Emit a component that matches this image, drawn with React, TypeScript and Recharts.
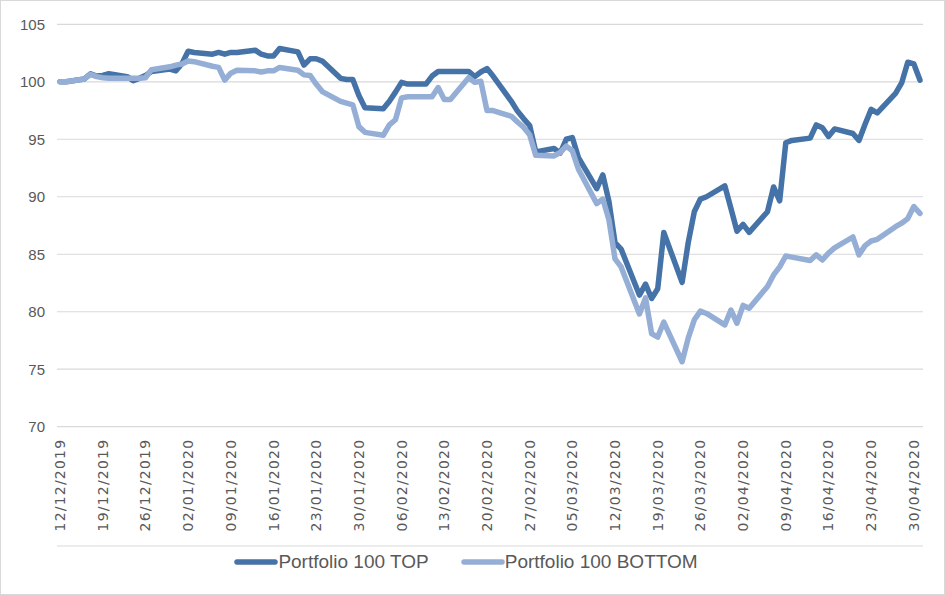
import React from 'react';
import { LineChart, Line, XAxis, YAxis, CartesianGrid, Legend } from 'recharts';

const dates = [
  '12/12/2019', '13/12/2019', '16/12/2019', '17/12/2019', '18/12/2019', '19/12/2019', '20/12/2019',
  '23/12/2019', '24/12/2019', '25/12/2019', '26/12/2019', '27/12/2019', '30/12/2019', '31/12/2019',
  '01/01/2020', '02/01/2020', '03/01/2020', '06/01/2020', '07/01/2020', '08/01/2020', '09/01/2020',
  '10/01/2020', '13/01/2020', '14/01/2020', '15/01/2020', '16/01/2020', '17/01/2020', '20/01/2020',
  '21/01/2020', '22/01/2020', '23/01/2020', '24/01/2020', '27/01/2020', '28/01/2020', '29/01/2020',
  '30/01/2020', '31/01/2020',
  '03/02/2020', '04/02/2020', '05/02/2020', '06/02/2020', '07/02/2020', '10/02/2020', '11/02/2020',
  '12/02/2020', '13/02/2020', '14/02/2020', '17/02/2020', '18/02/2020', '19/02/2020', '20/02/2020',
  '21/02/2020', '24/02/2020', '25/02/2020', '26/02/2020', '27/02/2020', '28/02/2020',
  '02/03/2020', '03/03/2020', '04/03/2020', '05/03/2020', '06/03/2020', '09/03/2020', '10/03/2020',
  '11/03/2020', '12/03/2020', '13/03/2020', '16/03/2020', '17/03/2020', '18/03/2020', '19/03/2020',
  '20/03/2020', '23/03/2020', '24/03/2020', '25/03/2020', '26/03/2020', '27/03/2020', '30/03/2020',
  '31/03/2020',
  '01/04/2020', '02/04/2020', '03/04/2020', '06/04/2020', '07/04/2020', '08/04/2020', '09/04/2020',
  '10/04/2020', '13/04/2020', '14/04/2020', '15/04/2020', '16/04/2020', '17/04/2020', '20/04/2020',
  '21/04/2020', '22/04/2020', '23/04/2020', '24/04/2020', '27/04/2020', '28/04/2020', '29/04/2020',
  '30/04/2020', '01/05/2020',
];

const topValues = [
  100.0, 100.0, 100.25, 100.7, 100.5, 100.55, 100.7, 100.45, 100.1, 100.3, 100.55, 100.9, 101.1, 100.95,
  101.6, 102.65, 102.55, 102.4, 102.55, 102.4, 102.55, 102.55, 102.75, 102.4, 102.25, 102.25, 102.9, 102.6,
  101.45, 102.0, 102.0, 101.8, 100.3, 100.2, 100.2, 98.8, 97.75,
  97.65, 98.3, 99.1, 99.95, 99.8, 99.8, 100.5, 100.9, 100.9, 100.9, 100.9, 100.45, 100.85, 101.15,
  100.5, 98.3, 97.45, 96.8, 96.2, 93.9,
  94.2, 93.8, 95.0, 95.15, 93.4, 90.7, 91.9, 89.6, 86.0, 85.45, 81.45, 82.4, 81.15, 82.0,
  86.9, 82.55, 86.0, 88.7, 89.8, 90.0, 90.95, 89.0,
  87.0, 87.6, 86.9, 88.7, 90.85, 89.65, 94.7, 94.9, 95.1, 96.25, 96.0, 95.25, 95.9, 95.5,
  94.9, 96.3, 97.6, 97.3, 99.0, 99.9, 101.7, 101.55, 100.15,
];

const bottomValues = [
  100.0, 100.0, 100.25, 100.65, 100.45, 100.35, 100.3, 100.3, 100.3, 100.3, 100.35, 101.05, 101.3, 101.45,
  101.55, 101.8, 101.75, 101.35, 101.25, 100.15, 100.75, 101.0, 100.95, 100.85, 100.95, 100.95, 101.25, 101.0,
  100.6, 100.55, 99.8, 99.15, 98.3, 98.15, 98.0, 96.1, 95.6,
  95.35, 96.25, 96.7, 98.6, 98.7, 98.7, 98.7, 99.5, 98.45, 98.45, 100.35, 99.95, 100.05, 97.5,
  97.5, 97.0, 96.5, 96.05, 95.4, 93.6,
  93.55, 93.85, 94.4, 94.0, 92.4, 89.4, 89.8, 88.0, 84.6, 83.9, 79.8, 81.2, 78.1, 77.8,
  79.1, 75.65, 77.7, 79.3, 80.05, 79.85, 78.85, 80.15,
  79.0, 80.55, 80.3, 82.2, 83.2, 83.9, 84.85, 84.75, 84.45, 84.95, 84.5, 85.1, 85.55, 86.5,
  84.95, 85.75, 86.15, 86.3, 87.4, 87.7, 88.1, 89.15, 88.55,
];

const tickLabels = [
  '12/12/2019', '19/12/2019', '26/12/2019', '02/01/2020', '09/01/2020', '16/01/2020', '23/01/2020',
  '30/01/2020', '06/02/2020', '13/02/2020', '20/02/2020', '27/02/2020', '05/03/2020', '12/03/2020',
  '19/03/2020', '26/03/2020', '02/04/2020', '09/04/2020', '16/04/2020', '23/04/2020', '30/04/2020',
];

const yTicks = [70, 75, 80, 85, 90, 95, 100, 105];
const seriesNames = ['Portfolio 100 TOP', 'Portfolio 100 BOTTOM'];
const seriesColors = ['#4573a7', '#95aed6'];

const DAY_MS = 86400000;
const parseDate = (s: string) => {
  const [d, m, y] = s.split('/').map(Number);
  return Date.UTC(y, m - 1, d);
};
const origin = parseDate(dates[0]);
const toDay = (s: string) => Math.round((parseDate(s) - origin) / DAY_MS);

const data = dates.map((d, i) => ({ day: toDay(d), top: topValues[i], bottom: bottomValues[i] }));
const labelTicks = tickLabels.map(toDay);
const markTicks = labelTicks.map((t) => t - 0.5);
const labelByDay = new Map(labelTicks.map((t, i) => [t, tickLabels[i]]));
const xDomain = [data[0].day - 0.5, data[data.length - 1].day + 0.5];

const TEXT = '#595959';
const GRID = '#d9d9d9';

const XTick = (props: any) => {
  const { x, y, payload } = props;
  return (
    <text
      x={0}
      y={0}
      transform={`translate(${x},${y}) rotate(-90)`}
      textAnchor="end"
      dominantBaseline="central"
      fill={TEXT}
      fontFamily="DejaVu Sans"
      fontSize={14}
      style={{ letterSpacing: '1.2px' }}
    >
      {labelByDay.get(payload.value)}
    </text>
  );
};

const LegendContent = () => (
  <div
    style={{
      display: 'flex',
      justifyContent: 'center',
      alignItems: 'center',
      height: 30,
      paddingLeft: 8,
      fontFamily: 'Liberation Sans',
      fontSize: 19,
      color: TEXT,
    }}
  >
    {seriesNames.map((name, i) => (
      <div key={name} style={{ display: 'flex', alignItems: 'center', marginLeft: i ? 32 : 0 }}>
        <svg width={44} height={8} style={{ display: 'block' }}>
          <line x1={3} y1={4} x2={41} y2={4} stroke={seriesColors[i]} strokeWidth={5.5} strokeLinecap="round" />
        </svg>
        <span style={{ whiteSpace: 'nowrap' }}>{name}</span>
      </div>
    ))}
  </div>
);

export default function App() {
  return (
    <div
      style={{
        position: 'absolute',
        left: 0,
        top: 0,
        width: 945,
        height: 595,
        boxSizing: 'border-box',
        border: `1px solid ${GRID}`,
        background: '#fff',
      }}
    >
      <LineChart width={943} height={593} data={data} margin={{ top: 23.3, right: 21, bottom: 17, left: 0 }}>
        <CartesianGrid vertical={false} stroke={GRID} strokeWidth={1.2} />
        <XAxis
          xAxisId="marks"
          dataKey="day"
          type="number"
          domain={xDomain}
          allowDataOverflow
          ticks={markTicks}
          interval={0}
          tick={false}
          tickLine={{ stroke: GRID, strokeWidth: 1.2 }}
          tickSize={4}
          axisLine={{ stroke: GRID, strokeWidth: 1.2 }}
          height={1}
        />
        <XAxis
          dataKey="day"
          type="number"
          domain={xDomain}
          allowDataOverflow
          ticks={labelTicks}
          interval={0}
          tick={<XTick />}
          tickLine={false}
          axisLine={false}
          tickSize={0}
          tickMargin={12}
          height={119.3}
        />
        <YAxis
          type="number"
          domain={[70, 105]}
          ticks={yTicks}
          interval={0}
          axisLine={false}
          tickLine={false}
          tickSize={0}
          tickMargin={12}
          width={56}
          tick={{ fill: TEXT, fontFamily: 'Liberation Sans', fontSize: 15 }}
        />
        <Legend verticalAlign="bottom" height={30} content={<LegendContent />} />
        <Line
          name={seriesNames[0]}
          dataKey="top"
          type="linear"
          stroke={seriesColors[0]}
          strokeWidth={5.5}
          strokeLinejoin="round"
          strokeLinecap="round"
          dot={false}
          activeDot={false}
          isAnimationActive={false}
        />
        <Line
          name={seriesNames[1]}
          dataKey="bottom"
          type="linear"
          stroke={seriesColors[1]}
          strokeWidth={5.5}
          strokeLinejoin="round"
          strokeLinecap="round"
          dot={false}
          activeDot={false}
          isAnimationActive={false}
        />
      </LineChart>
    </div>
  );
}
